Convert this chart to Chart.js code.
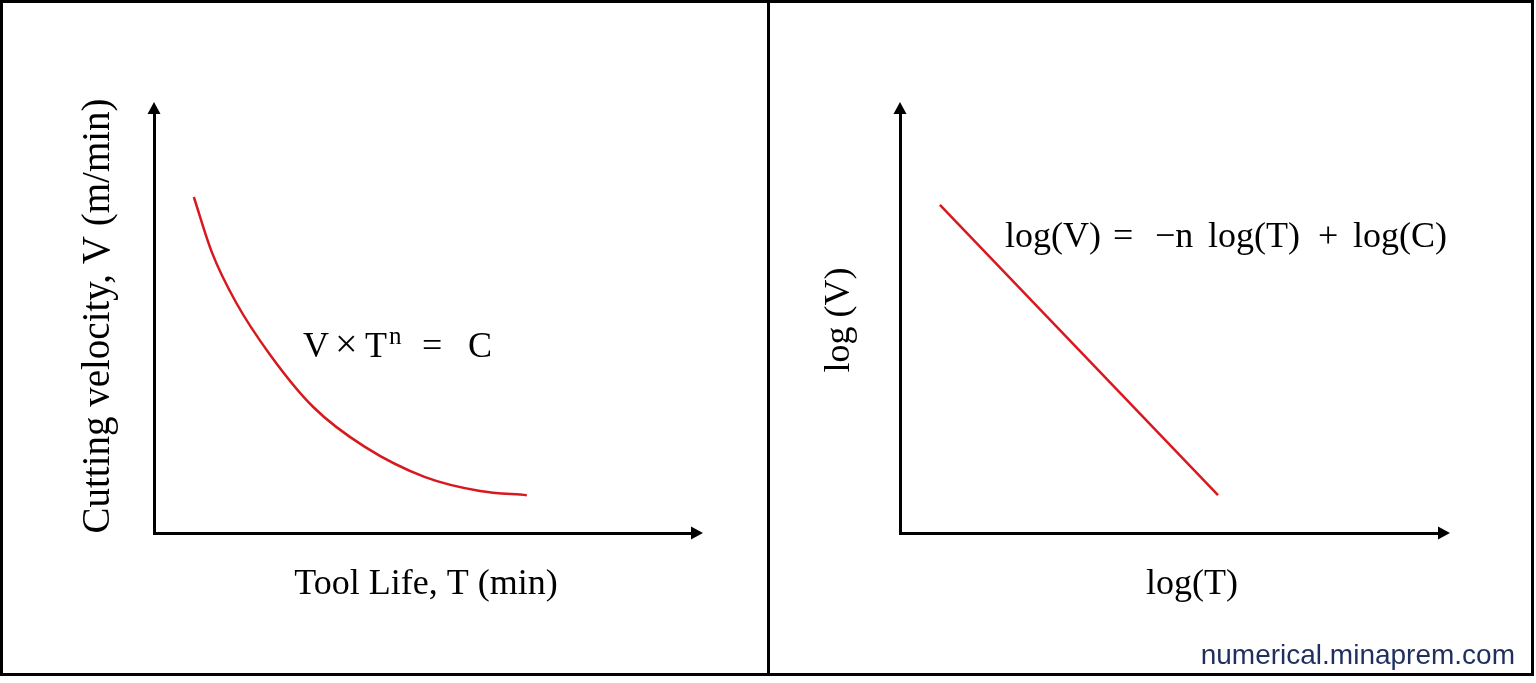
<!DOCTYPE html>
<html>
<head>
<meta charset="utf-8">
<title>Tool life curves</title>
<script src="https://cdn.jsdelivr.net/npm/chart.js@4"></script>
<style>
    html, body { margin: 0; padding: 0; background: #fff; }
    #frame { position: absolute; left: 0; top: 0; width: 1528px; height: 670px; border: 3px solid #000; }
    #divider { position: absolute; left: 764px; top: 0; width: 3px; height: 670px; background: #000; }
    #frame canvas { position: absolute; top: 0; }
    #left-chart { left: 0; }
    #right-chart { left: 767px; }
</style>
</head>
<body>
<div id="frame">
    <canvas id="left-chart" width="764" height="670"></canvas>
    <div id="divider"></div>
    <canvas id="right-chart" width="761" height="670"></canvas>
</div>
<script>
// Left panel: V vs T (Taylor curve) (axis 0-100)
const toolLife = [7.4, 10.8, 15.2, 21.6, 29.6, 39.2, 50.4, 60.6, 69.3];
const cuttingVelocity = [80.0, 66.7, 55.0, 42.4, 30.0, 20.5, 13.3, 10.0, 9.0];

// Right panel: log(V) vs log(T), straight line
const logT = [7.4, 59.0];
const logV = [78.1, 9.0];

const RED = '#d7191f';
const SERIF = '"Liberation Serif", "Times New Roman", serif';

function toPoints(xs, ys) {
    return xs.map((x, i) => ({ x: x, y: ys[i] }));
}

function axisScale() {
    return {
        type: 'linear',
        min: 0,
        max: 100,
        ticks: { display: false },
        grid: { display: false, drawTicks: false },
        border: { display: true, color: '#000', width: 3 }
    };
}

// arrows on the axes plus titles and equation text
const decorPlugin = {
    id: 'decor',
    afterDraw(chart, args, opts) {
        const { ctx, chartArea: a } = chart;
        ctx.save();
        ctx.fillStyle = '#000';

        // up arrow
        ctx.beginPath();
        ctx.moveTo(a.left, a.top - 11);
        ctx.lineTo(a.left - 6.5, a.top + 1);
        ctx.lineTo(a.left + 6.5, a.top + 1);
        ctx.closePath();
        ctx.fill();
        // right arrow
        ctx.beginPath();
        ctx.moveTo(a.right + 11, a.bottom);
        ctx.lineTo(a.right - 1, a.bottom - 6.5);
        ctx.lineTo(a.right - 1, a.bottom + 6.5);
        ctx.closePath();
        ctx.fill();

        ctx.textBaseline = 'alphabetic';
        ctx.font = opts.titleSize + 'px ' + SERIF;
        ctx.textAlign = 'center';
        ctx.fillText(opts.xTitle, opts.xTitleX, opts.xTitleY);

        ctx.save();
        ctx.font = opts.yTitleSize + 'px ' + SERIF;
        ctx.translate(opts.yTitleX, opts.yTitleY);
        ctx.rotate(-Math.PI / 2);
        ctx.fillText(opts.yTitle, 0, 0);
        ctx.restore();

        ctx.textAlign = 'left';
        (opts.pieces || []).forEach(p => {
            ctx.font = (p.size || 36) + 'px ' + SERIF;
            ctx.fillText(p.text, p.x, p.y);
        });

        if (opts.credit) {
            ctx.font = '28px "Liberation Sans", Arial, sans-serif';
            ctx.fillStyle = '#1f2f5e';
            ctx.textAlign = 'right';
            ctx.fillText(opts.credit, 745, 661);
        }
        ctx.restore();
    }
};

function makeChart(canvasId, points, smooth, padding, decor) {
    return new Chart(document.getElementById(canvasId), {
        type: 'line',
        data: {
            datasets: [{
                data: points,
                borderColor: RED,
                borderWidth: 2.5,
                pointRadius: 0,
                cubicInterpolationMode: smooth ? 'monotone' : 'default',
                tension: 0,
                fill: false
            }]
        },
        options: {
            responsive: false,
            animation: false,
            layout: { padding: padding },
            scales: { x: axisScale(), y: axisScale() },
            plugins: {
                legend: { display: false },
                tooltip: { enabled: false },
                decor: decor
            }
        },
        plugins: [decorPlugin]
    });
}

makeChart('left-chart', toPoints(toolLife, cuttingVelocity), true,
    { left: 151, right: 75, top: 110, bottom: 140 },
    {
        titleSize: 36,
        xTitle: 'Tool Life, T (min)', xTitleX: 423, xTitleY: 591,
        yTitleSize: 39,
        yTitle: 'Cutting velocity, V (m/min)', yTitleX: 106, yTitleY: 313,
        pieces: [
            { text: 'V', x: 300, y: 354 },
            { text: '×', x: 332, y: 354, size: 40 },
            { text: 'T', x: 362, y: 354 },
            { text: 'n', x: 386, y: 341, size: 25 },
            { text: '=', x: 419, y: 354 },
            { text: 'C', x: 465, y: 354 }
        ]
    });

makeChart('right-chart', toPoints(logT, logV), false,
    { left: 130, right: 92, top: 110, bottom: 140 },
    {
        titleSize: 36,
        xTitle: 'log(T)', xTitleX: 422, xTitleY: 591,
        yTitleSize: 36,
        yTitle: 'log (V)', yTitleX: 79, yTitleY: 317,
        pieces: [
            { text: 'log(V)', x: 235, y: 244 },
            { text: '=', x: 343, y: 244 },
            { text: '−n', x: 385, y: 244 },
            { text: 'log(T)', x: 438, y: 244 },
            { text: '+', x: 548, y: 244 },
            { text: 'log(C)', x: 583, y: 244 }
        ],
        credit: 'numerical.minaprem.com'
    });
</script>
</body>
</html>
